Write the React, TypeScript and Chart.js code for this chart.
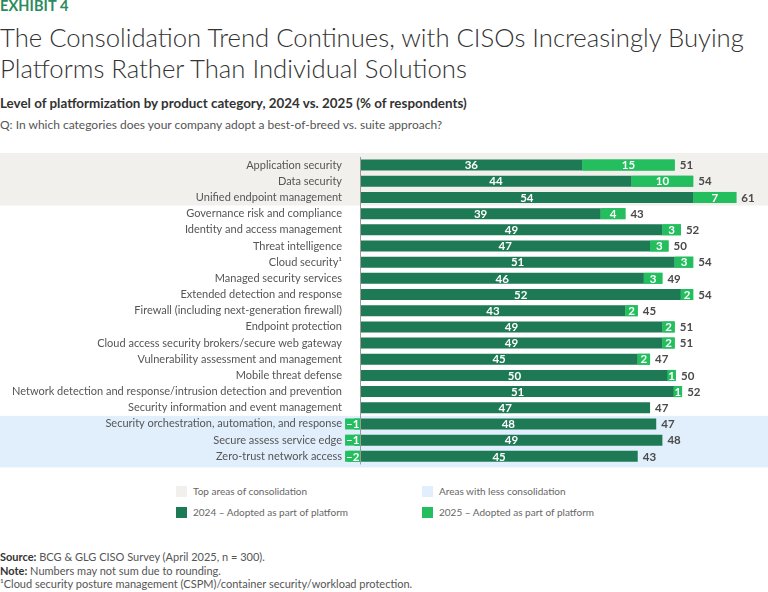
import React, { useEffect, useRef } from "react";
import { Chart, registerables } from "chart.js";

Chart.register(...registerables);

const categories = [
  "Application security",
  "Data security",
  "Unified endpoint management",
  "Governance risk and compliance",
  "Identity and access management",
  "Threat intelligence",
  "Cloud security\u00B9",
  "Managed security services",
  "Extended detection and response",
  "Firewall (including next-generation firewall)",
  "Endpoint protection",
  "Cloud access security brokers/secure web gateway",
  "Vulnerability assessment and management",
  "Mobile threat defense",
  "Network detection and response/intrusion detection and prevention",
  "Security information and event management",
  "Security orchestration, automation, and response",
  "Secure assess service edge",
  "Zero-trust network access",
];

const adopted2024 = [36, 44, 54, 39, 49, 47, 51, 46, 52, 43, 49, 49, 45, 50, 51, 47, 48, 49, 45];
const change2025 = [15, 10, 7, 4, 3, 3, 3, 3, 2, 2, 2, 2, 2, 1, 1, 0, -1, -1, -2];
const total2025 = [51, 54, 61, 43, 52, 50, 54, 49, 54, 45, 51, 51, 47, 50, 52, 47, 47, 48, 43];

const topConsolidation = [0, 1, 2];
const lessConsolidation = [16, 17, 18];

const DARK = "#1E7A55";
const LIGHT = "#24BE5F";
const GREYBAND = "#F2F0ED";
const BLUEBAND = "#E1EEFB";
const FONT = "Lato, 'Open Sans', sans-serif";

export default function App() {
  const ref = useRef<HTMLCanvasElement>(null);

  useEffect(() => {
    document.body.style.margin = "0";
    const canvas = ref.current;
    if (!canvas) return;

    const bandsPlugin = {
      id: "bands",
      beforeDraw(chart: any) {
        const ctx = chart.ctx;
        const y = chart.scales.y;
        const half = y.height / categories.length / 2;
        const w = chart.width;
        ctx.save();
        const g0 = y.getPixelForValue(topConsolidation[0]) - half - 4;
        const g1 = y.getPixelForValue(topConsolidation[topConsolidation.length - 1]) + half;
        ctx.fillStyle = GREYBAND;
        ctx.fillRect(0, g0, w, g1 - g0);
        const b0 = y.getPixelForValue(lessConsolidation[0]) - half;
        const b1 = y.getPixelForValue(lessConsolidation[lessConsolidation.length - 1]) + half + 3;
        ctx.fillStyle = BLUEBAND;
        ctx.fillRect(0, b0, w, b1 - b0);
        ctx.restore();
      },
    };

    const labelsPlugin = {
      id: "vals",
      afterDatasetsDraw(chart: any) {
        const ctx = chart.ctx;
        const x = chart.scales.x;
        const y = chart.scales.y;
        ctx.save();
        ctx.font = `bold 11.5px ${FONT}`;
        ctx.textBaseline = "middle";
        ctx.textAlign = "center";

        // 2024 labels
        ctx.fillStyle = "#ffffff";
        chart.getDatasetMeta(0).data.forEach((bar: any, i: number) => {
          const v = adopted2024[i];
          ctx.fillText(String(v), (bar.x + bar.base) / 2, bar.y + 0.5);
        });

        // 2025 labels with light-green label boxes
        const boxEnds: number[] = [];
        chart.getDatasetMeta(1).data.forEach((bar: any, i: number) => {
          const v = change2025[i];
          boxEnds[i] = Math.max(bar.x, bar.base);
          if (!v) return;
          const txt = v < 0 ? "\u2013" + Math.abs(v) : String(v);
          const tw = ctx.measureText(txt).width;
          const bw = Math.abs(bar.x - bar.base);
          const need = tw + 2;
          const h = bar.height;
          let left: number, right: number;
          if (v < 0) {
            right = bar.base;
            left = Math.min(bar.x, bar.base - need);
          } else if (bw < need) {
            const c = (bar.x + bar.base) / 2;
            left = c - need / 2;
            right = c + need / 2;
          } else {
            left = bar.base;
            right = bar.x;
          }
          ctx.fillStyle = LIGHT;
          ctx.fillRect(left, bar.y - h / 2, right - left, h);
          boxEnds[i] = Math.max(right, boxEnds[i]);
          ctx.fillStyle = "#ffffff";
          ctx.fillText(txt, (left + right) / 2, bar.y + 0.5);
        });

        // zero axis line
        ctx.strokeStyle = "#9a9a9a";
        ctx.lineWidth = 1;
        const x0 = Math.round(x.getPixelForValue(0)) + 0.5;
        ctx.beginPath();
        ctx.moveTo(x0, chart.chartArea.top);
        ctx.lineTo(x0, chart.chartArea.bottom);
        ctx.stroke();

        // totals
        ctx.fillStyle = "#4a4a4a";
        ctx.textAlign = "left";
        total2025.forEach((t, i) => {
          const end = adopted2024[i] + Math.max(change2025[i], 0);
          const px = Math.max(x.getPixelForValue(end), boxEnds[i] || 0) + 5;
          ctx.fillText(String(t), px, y.getPixelForValue(i) + 0.5);
        });
        ctx.restore();
      },
    };

    const chart = new Chart(canvas, {
      type: "bar",
      data: {
        labels: categories,
        datasets: [
          {
            label: "2024 \u2013 Adopted as part of platform",
            data: adopted2024,
            backgroundColor: DARK,
            barPercentage: 0.68,
            categoryPercentage: 1,
          },
          {
            label: "2025 \u2013 Adopted as part of platform",
            data: change2025,
            backgroundColor: LIGHT,
            barPercentage: 0.68,
            categoryPercentage: 1,
          },
        ],
      },
      options: {
        indexAxis: "y",
        animation: false,
        responsive: false,
        maintainAspectRatio: false,
        layout: { padding: { top: 17, bottom: 2, left: 0, right: 7 } },
        plugins: {
          legend: { display: false },
          tooltip: { enabled: false },
        },
        scales: {
          x: {
            stacked: true,
            min: -2.5,
            max: 65,
            display: false,
          },
          y: {
            stacked: true,
            grid: { display: false, drawTicks: false },
            border: { display: false },
            ticks: {
              color: "#555555",
              font: { family: FONT, size: 11 },
              padding: 3,
              autoSkip: false,
            },
            afterFit(scale: any) {
              scale.width = 345;
            },
          },
        },
      },
      plugins: [bandsPlugin, labelsPlugin],
    } as any);

    return () => chart.destroy();
  }, []);

  const swatch = (color: string) => ({
    position: "absolute" as const,
    width: 11,
    height: 11,
    background: color,
  });
  const legendText = {
    position: "absolute" as const,
    fontFamily: FONT,
    fontSize: 10,
    color: "#666",
    lineHeight: "12px",
    whiteSpace: "nowrap" as const,
  };

  return (
    <div style={{ position: "relative", width: 768, height: 592, background: "#fff", overflow: "hidden", fontFamily: FONT }}>
      <div style={{ position: "absolute", left: 0, top: -3, fontSize: 14.5, fontWeight: 700, color: "#2B8A5E", letterSpacing: 0.1 }}>
        EXHIBIT 4
      </div>
      <div style={{ position: "absolute", left: 0, top: 22, fontSize: 25.7, fontWeight: 300, color: "#333", lineHeight: "31px", width: 768 }}>
        The Consolidation Trend Continues, with CISOs Increasingly Buying
        <br />
        Platforms Rather Than Individual Solutions
      </div>
      <div style={{ position: "absolute", left: 0, top: 95, fontSize: 13.4, fontWeight: 700, color: "#333", whiteSpace: "nowrap" }}>
        Level of platformization by product category, 2024 vs. 2025 (% of respondents)
      </div>
      <div style={{ position: "absolute", left: 0, top: 117, fontSize: 12, color: "#555", whiteSpace: "nowrap" }}>
        Q: In which categories does your company adopt a best-of-breed vs. suite approach?
      </div>
      <canvas ref={ref} width={768} height={334} style={{ position: "absolute", left: 0, top: 140, width: 768, height: 334 }} />

      <div style={{ ...swatch(GREYBAND), left: 176, top: 486 }} />
      <div style={{ ...legendText, left: 193, top: 485 }}>Top areas of consolidation</div>
      <div style={{ ...swatch(BLUEBAND), left: 422, top: 486 }} />
      <div style={{ ...legendText, left: 439, top: 485 }}>Areas with less consolidation</div>
      <div style={{ ...swatch(DARK), left: 176, top: 507 }} />
      <div style={{ ...legendText, left: 193, top: 506 }}>2024 – Adopted as part of platform</div>
      <div style={{ ...swatch(LIGHT), left: 422, top: 507 }} />
      <div style={{ ...legendText, left: 439, top: 506 }}>2025 – Adopted as part of platform</div>

      <div style={{ position: "absolute", left: 0, top: 550, fontSize: 11, color: "#555", lineHeight: "13.5px", whiteSpace: "nowrap" }}>
        <div><b style={{ color: "#333" }}>Source:</b> BCG &amp; GLG CISO Survey (April 2025, n = 300).</div>
        <div><b style={{ color: "#333" }}>Note:</b> Numbers may not sum due to rounding.</div>
        <div>{"\u00B9"}Cloud security posture management (CSPM)/container security/workload protection.</div>
      </div>
    </div>
  );
}
